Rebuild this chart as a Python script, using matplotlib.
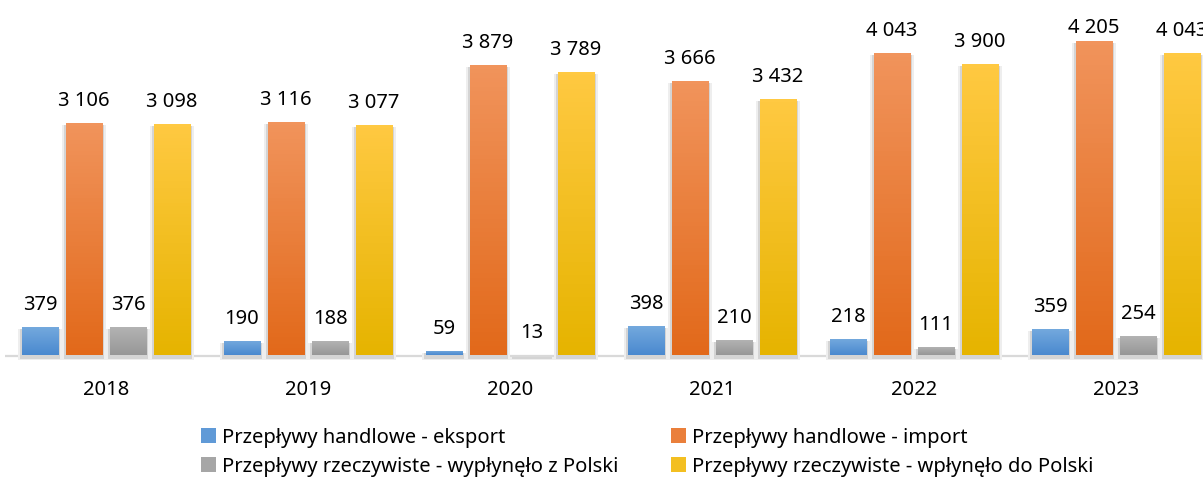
import numpy as np
import matplotlib
matplotlib.use("Agg")
import matplotlib.pyplot as plt
from matplotlib.colors import LinearSegmentedColormap
from matplotlib.patches import Rectangle

years = ["2018", "2019", "2020", "2021", "2022", "2023"]
eksport = [379, 190, 59, 398, 218, 359]
import_ = [3106, 3116, 3879, 3666, 4043, 4205]
wyplynelo = [376, 188, 13, 210, 111, 254]
wplynelo = [3098, 3077, 3789, 3432, 3900, 4043]

series = [
    ("Przepływy handlowe - eksport", eksport, "#75aade", "#4a89cf"),
    ("Przepływy handlowe - import", import_, "#f1945c", "#e2691a"),
    ("Przepływy rzeczywiste - wypłynęło z Polski", wyplynelo, "#b4b4b4", "#979797"),
    ("Przepływy rzeczywiste - wpłynęło do Polski", wplynelo, "#ffc942", "#e6b400"),
]

plt.rcParams['font.family'] = ['Noto Sans', 'DejaVu Sans']

W, H = 1203, 484
fig = plt.figure(figsize=(W / 100, H / 100), dpi=100)

# pixel geometry of the plot area
px_cat = 202.0          # pixels per category
upy = 13.36             # data units per pixel (y)
base_px = 355.5         # baseline, px from top
below = 8               # px shown under the baseline
ymax = base_px * upy
ymin = -below * upy
ax = fig.add_axes([5 / W, (H - base_px - below) / H, 6 * px_cat / W, (base_px + below) / H])

x = np.arange(len(years))
pitch = 44 / px_cat
bw = 36.5 / px_cat
offsets = (np.arange(4) - 1.5) * pitch

ax.axhline(0, color="#d9d9d9", lw=1.6, zorder=0.5)

legend_handles = []
for i, (name, vals, ctop, cbot) in enumerate(series):
    xs = x + offsets[i]
    # soft shadow behind bars
    ax.bar(xs, np.array(vals) + 2 * upy, width=bw + 8 / px_cat, bottom=-4 * upy,
           color="#eeeeee", zorder=1)
    ax.bar(xs, np.array(vals) + 1 * upy, width=bw + 4 / px_cat, bottom=-3 * upy,
           color="#d4d4d4", zorder=1.5)
    bars = ax.bar(xs, vals, width=bw, color="none", zorder=3)
    cmap = LinearSegmentedColormap.from_list(name, [cbot, ctop])
    for b in bars:
        x0, w, h = b.get_x(), b.get_width(), b.get_height()
        img = ax.imshow(np.linspace(0, 1, 64).reshape(-1, 1), cmap=cmap, aspect="auto",
                        origin="lower", extent=(x0, x0 + w, 0, h), zorder=2.5)
        img.set_clip_path(b)
    for xi, v in zip(xs, vals):
        # labels sit above the bar, but stay inside the plot area
        ylab = min(v + 17 * upy, ymax - 33 * upy)
        ax.text(xi, ylab, f"{v:,}".replace(",", " "), ha="center", va="baseline",
                fontsize=14.5, color="#000000", zorder=4)
    legend_handles.append(Rectangle((0, 0), 1, 1, facecolor=cmap(0.5), edgecolor="none"))

ax.set_xlim(-0.5, 5.5)
ax.set_ylim(ymin, ymax)
ax.set_xticks(x, years)
ax.tick_params(axis="x", length=0, pad=12, labelsize=14.5)
ax.set_yticks([])
for s in ax.spines.values():
    s.set_visible(False)

names = [s[0] for s in series]
order = [0, 2, 1, 3]
fig.legend([legend_handles[k] for k in order], [names[k] for k in order],
           ncol=2, loc="center", bbox_to_anchor=(0.538, 0.066), frameon=False,
           fontsize=14.5, handlelength=0.75, handleheight=0.75, handletextpad=0.3,
           columnspacing=2.6, labelspacing=0.45, borderpad=0)

fig.savefig("out.png", dpi=100)
